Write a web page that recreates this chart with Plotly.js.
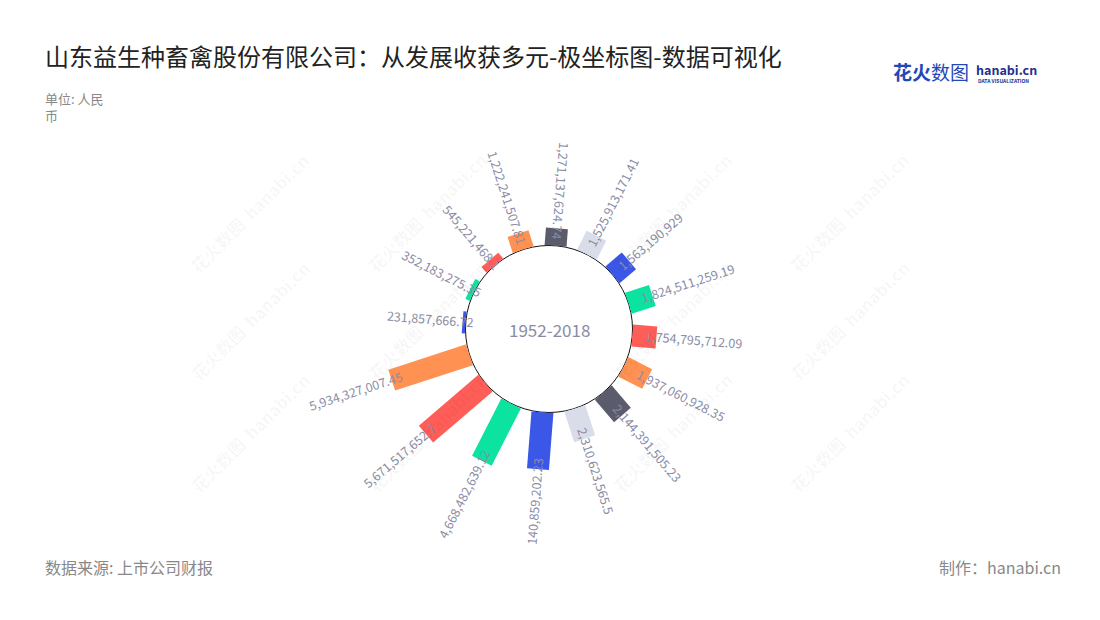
<!DOCTYPE html>
<html>
<head>
<meta charset="utf-8">
<script src="https://cdn.plot.ly/plotly-3.0.1.min.js"></script>
<style>
  body { margin: 0; background: #fff; }
  #chart { width: 1100px; height: 620px; }
</style>
</head>
<body>
<div id="chart"></div>
<script>
// bar values, clockwise from the top
const values = [1271137624.74, 1525913171.41, 1563190929, 1824511259.19, 1754795712.09, 1937060928.35,
  2144391505.23, 2310623565.5, 4140859202.23, 4668482639.12, 5671517652.7, 5934327007.45,
  231857666.72, 352183275.35, 545221468.1, 1222241507.81];
// labels as printed on the chart (the 9th one is cut short in the source)
const labels = ['1,271,137,624.74', '1,525,913,171.41', '1,563,190,929', '1,824,511,259.19', '1,754,795,712.09', '1,937,060,928.35',
  '2,144,391,505.23', '2,310,623,565.5', '140,859,202.23', '4,668,482,639.12', '5,671,517,652.7', '5,934,327,007.45',
  '231,857,666.72', '352,183,275.35', '545,221,468.1', '1,222,241,507.81'];
const colors = ['#5b5c6b', '#d9dde9', '#3a57e8', '#0ce3a0', '#ff5d57', '#ff9153',
  '#5b5c6b', '#d9dde9', '#3a57e8', '#0ce3a0', '#ff5d57', '#ff9153',
  '#3a57e8', '#0ce3a0', '#ff5d57', '#ff9153'];
const period = '1952-2018';

const W = 1100, H = 620;
const cx = 549, cy = 329;      // polar centre in px
const holePx = 83.5;
const rMax = 6.5e9;
const pxPerUnit = 13.8e-9;
const R = holePx + rMax * pxPerUnit;
const rotation = 85.5;
const font = '"Noto Sans CJK SC", "Noto Sans", sans-serif';
const labelColor = '#8a8ca6';

var data = values.map((v, i) => ({
  type: 'scatterpolar',
  mode: 'lines',
  r: [0, v],
  theta: [labels[i], labels[i]],
  line: { color: colors[i], width: 22 },
  hoverinfo: 'skip',
  showlegend: false
}));
data.push({
  type: 'scatterpolar',
  mode: 'text',
  r: values,
  theta: labels,
  text: labels,
  textposition: 'middle center',
  textfont: { family: font, size: 12.5, color: labelColor },
  cliponaxis: false,
  hoverinfo: 'skip',
  showlegend: false
});

var annotations = [];
// watermark grid
[182, 427, 672, 917].forEach(x => [145, 320, 500].forEach(y => {
  annotations.push({
    xref: 'paper', yref: 'paper', x: x / W, y: 1 - y / H,
    text: '<b>花火数图</b>  <b>hanabi.cn</b>', showarrow: false, textangle: -45,
    font: { family: font, size: 17, color: 'rgba(0,0,0,0.04)' }
  });
}));
annotations.push(
  { xref: 'paper', yref: 'paper', x: 43 / W, y: 1 - 55 / H, xanchor: 'left', yanchor: 'middle',
    text: '山东益生种畜禽股份有限公司：从发展收获多元-极坐标图-数据可视化', showarrow: false,
    font: { family: font, size: 24, color: '#222' } },
  { xref: 'paper', yref: 'paper', x: 43 / W, y: 1 - 87 / H, xanchor: 'left', yanchor: 'top', align: 'left',
    text: '单位: 人民<br>币', showarrow: false, font: { family: font, size: 13, color: '#888' } },
  { xref: 'paper', yref: 'paper', x: 43 / W, y: 1 - 567 / H, xanchor: 'left', yanchor: 'middle',
    text: '数据来源: 上市公司财报', showarrow: false, font: { family: font, size: 16, color: '#888' } },
  { xref: 'paper', yref: 'paper', x: 1063 / W, y: 1 - 567 / H, xanchor: 'right', yanchor: 'middle',
    text: '制作：hanabi.cn', showarrow: false, font: { family: font, size: 16, color: '#888' } },
  { xref: 'paper', yref: 'paper', x: 971 / W, y: 1 - 72 / H, xanchor: 'right', yanchor: 'middle',
    text: '<b>花火</b>数图', showarrow: false, font: { family: font, size: 19, color: '#2447b8' } },
  { xref: 'paper', yref: 'paper', x: 974 / W, y: 1 - 69 / H, xanchor: 'left', yanchor: 'middle',
    text: '<b>hanabi.cn</b>', showarrow: false, font: { family: font, size: 12.5, color: '#1d2f8f' } },
  { xref: 'paper', yref: 'paper', x: 976 / W, y: 1 - 81 / H, xanchor: 'left', yanchor: 'middle',
    text: '<b>DATA VISUALIZATION</b>', showarrow: false, font: { family: font, size: 5, color: '#1d2f8f' } },
  { xref: 'paper', yref: 'paper', x: cx / W, y: 1 - cy / H, xanchor: 'center', yanchor: 'middle',
    text: period, showarrow: false, font: { family: font, size: 17, color: labelColor } }
);

var layout = {
  width: W, height: H,
  margin: { l: 0, r: 0, t: 0, b: 0 },
  paper_bgcolor: '#fff',
  showlegend: false,
  hovermode: false,
  polar: {
    domain: { x: [(cx - R) / W, (cx + R) / W], y: [1 - (cy + R) / H, 1 - (cy - R) / H] },
    hole: holePx / R,
    bgcolor: 'rgba(0,0,0,0)',
    radialaxis: { range: [0, rMax], visible: false },
    angularaxis: { type: 'category', categoryorder: 'array', categoryarray: labels,
      rotation, direction: 'clockwise', visible: false }
  },
  shapes: [{
    type: 'circle', xref: 'paper', yref: 'paper', layer: 'below',
    x0: (cx - holePx) / W, x1: (cx + holePx) / W,
    y0: 1 - (cy + holePx) / H, y1: 1 - (cy - holePx) / H,
    fillcolor: '#fff', line: { color: '#111', width: 1 }
  }],
  annotations
};

Plotly.newPlot('chart', data, layout, { displayModeBar: false, staticPlot: true }).then(gd => {
  // turn the value labels so they run along their bar
  const step = 360 / labels.length;
  const traces = gd.querySelectorAll('.polarlayer .scatterlayer .trace');
  const texts = traces[traces.length - 1].querySelectorAll('.textpoint text');
  texts.forEach((t, i) => {
    let c = ((90 - rotation) + i * step) % 360;
    let outward = c > 12 && c < 180;
    let x = t.getAttribute('x'), y = t.getAttribute('y');
    t.parentNode.setAttribute('transform', '');
    t.setAttribute('text-anchor', outward ? 'start' : 'end');
    t.setAttribute('dx', outward ? -11 : 11);
    t.setAttribute('dy', '0.35em');
    t.setAttribute('transform', 'rotate(' + (outward ? c - 90 : c + 90) + ',' + x + ',' + y + ')');
  });
});
</script>
</body>
</html>
